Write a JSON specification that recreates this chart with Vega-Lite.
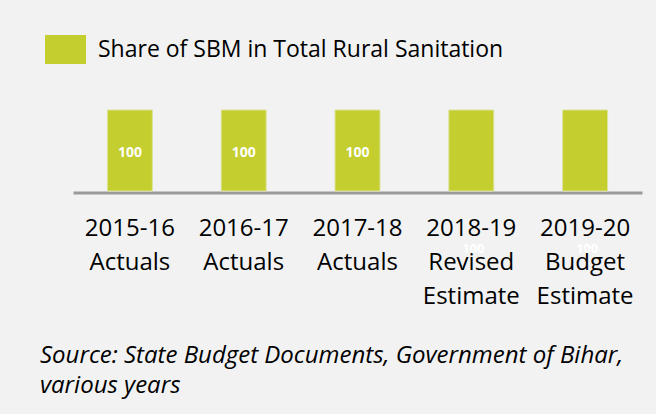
{
  "$schema": "https://vega.github.io/schema/vega-lite/v6.json",
  "width": 569,
  "height": 81,
  "autosize": {"type": "none"},
  "padding": {"left": 73, "top": 110, "right": 14, "bottom": 223},
  "background": "#f2f2f2",
  "config": {"view": {"stroke": null}, "font": "Open Sans"},
  "title": {
    "text": ["Source: State Budget Documents, Government of Bihar,", "various years"],
    "orient": "bottom",
    "anchor": "start",
    "frame": "group",
    "dx": -33,
    "offset": 35,
    "font": "Open Sans",
    "fontSize": 24,
    "fontStyle": "italic",
    "fontWeight": "normal",
    "lineHeight": 30,
    "color": "#000000"
  },
  "data": {
    "values": [
      {"period": "2015-16|Actuals", "share": 100, "type": "Actuals", "series": "Share of SBM in Total Rural Sanitation"},
      {"period": "2016-17|Actuals", "share": 100, "type": "Actuals", "series": "Share of SBM in Total Rural Sanitation"},
      {"period": "2017-18|Actuals", "share": 100, "type": "Actuals", "series": "Share of SBM in Total Rural Sanitation"},
      {"period": "2018-19|Revised|Estimate", "share": 100, "type": "Estimate", "series": "Share of SBM in Total Rural Sanitation"},
      {"period": "2019-20|Budget|Estimate", "share": 100, "type": "Estimate", "series": "Share of SBM in Total Rural Sanitation"}
    ]
  },
  "encoding": {
    "x": {
      "field": "period",
      "type": "nominal",
      "sort": null,
      "scale": {"paddingInner": 0.605, "paddingOuter": 0.3025},
      "axis": {
        "title": null,
        "labelAngle": 0,
        "labelExpr": "split(datum.value, '|')",
        "labelFont": "Open Sans",
        "labelFontSize": 24,
        "labelColor": "#000000",
        "labelLineHeight": 34,
        "labelPadding": 24,
        "labelLimit": 0,
        "labelOverlap": false,
        "ticks": false,
        "domainColor": "#9a9a9a",
        "domainWidth": 3,
        "offset": 1.5
      }
    },
    "y": {
      "field": "share",
      "type": "quantitative",
      "scale": {"domain": [0, 100], "nice": false},
      "axis": null
    }
  },
  "layer": [
    {
      "mark": {"type": "bar", "stroke": "#dde39b", "strokeWidth": 1},
      "encoding": {
        "color": {
          "field": "series",
          "type": "nominal",
          "scale": {"range": ["#c4ce2e"]},
          "legend": {
            "title": null,
            "orient": "none",
            "legendX": -28,
            "legendY": -81,
            "symbolType": "M-1,-0.707H1V0.707H-1Z",
            "symbolSize": 1681,
            "symbolStrokeWidth": 0,
            "symbolOpacity": 1,
            "labelFont": "Open Sans",
            "labelFontSize": 23,
            "labelColor": "#000000",
            "labelOffset": 12,
            "labelLimit": 0
          }
        }
      }
    },
    {
      "transform": [{"filter": "datum.type == 'Actuals'"}],
      "mark": {"type": "text", "dy": 43, "baseline": "middle", "font": "Open Sans", "fontSize": 14, "fontWeight": "bold", "color": "#ffffff"},
      "encoding": {"text": {"field": "share", "type": "quantitative"}}
    },
    {
      "transform": [{"filter": "datum.type == 'Estimate'"}],
      "mark": {"type": "text", "dy": 139, "dx": 2, "baseline": "middle", "font": "Open Sans", "fontSize": 13, "fontWeight": "bold", "color": "#ffffff"},
      "encoding": {"text": {"field": "share", "type": "quantitative"}}
    }
  ]
}
